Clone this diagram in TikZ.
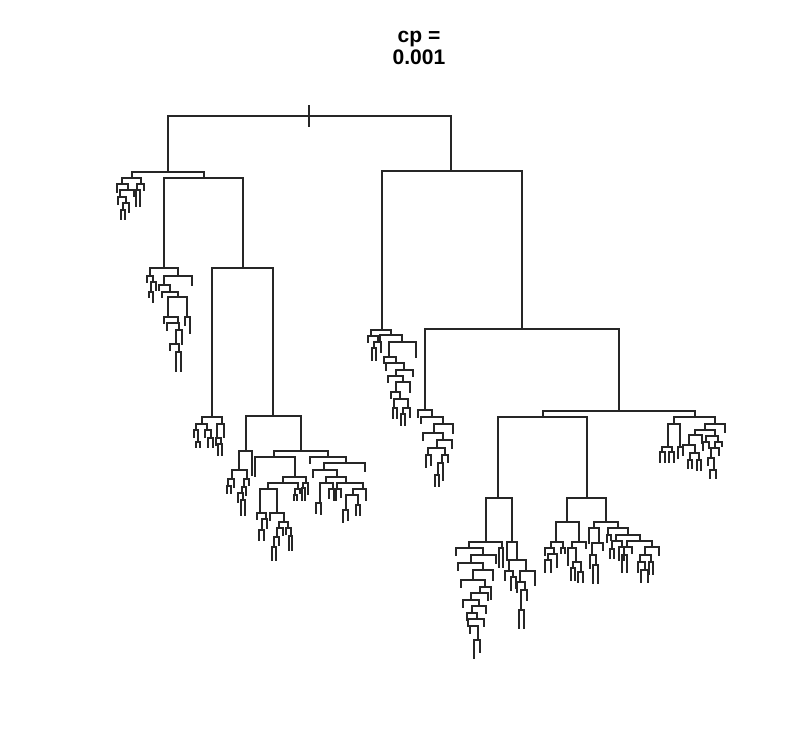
\documentclass[tikz,border=0pt]{standalone}
\usepackage{fontspec}
\setmainfont{Liberation Sans}
\usepackage{tikz}
\tikzset{branch/.style={line width=0.8pt, black!85, line cap=rect}}

\begin{document}
\begin{tikzpicture}[x=0.75pt, y=0.75pt, yscale=-1]
\useasboundingbox (0,0) rectangle (794,750);
\node[font=\bfseries\fontsize{15.8}{17}\selectfont, align=center] (title) at (419,48) {cp =\\0.001};
% root tick
\draw[branch] (309,106) -- (309,126);
% main splits: left x / right x / bar y / left end / right end
\foreach \xl/\xr/\yb/\yl/\yr in {168/451/116/172/171, 132/204/172/178/178, 164/243/178/268/268,
  212/273/268/417/416, 246/301/416/451/451, 382/522/171/330/329, 425/619/329/410/411,
  543/695/411/417/417, 498/587/417/498/498, 486/512/498/542/542, 567/606/498/522/522,
  674/715/417/424/424} {
  \draw[branch] (\xl,\yl) |- (\xr,\yb) -- (\xr,\yr);
}
% left-hand subtrees
\foreach \xl/\xr/\yb/\yl/\yr in {122/141/178/184/184, 117/128/184/192/190, 120/134/190/197/196,
  118/126/197/204/203, 123/129/203/210/212, 121/125/210/219/219, 137/144/184/190/190,
  136/140/190/206/206,
  150/178/268/276/276, 147/153/276/282/282, 151/156/282/292/290, 149/153/292/297/302,
  164/192/276/285/285, 159/170/285/290/292, 162/178/292/297/297, 168/187/297/317/317,
  164/178/317/323/323, 167/179/323/330/330, 176/182/330/344/344, 170/179/344/350/352,
  176/181/352/371/371, 185/190/317/325/333,
  202/222/417/424/424, 196/207/424/430/430, 194/198/430/437/442, 196/200/442/447/447,
  205/211/430/437/438, 208/213/438/447/447, 217/224/424/438/437, 216/221/438/445/444,
  218/222/444/455/455,
  239/252/451/470/475, 232/247/470/479/479, 228/234/479/486/487, 227/231/486/493/493,
  244/249/479/487/485, 242/246/487/493/495, 238/243/493/502/500, 241/245/500/515/515} {
  \draw[branch] (\xl,\yl) |- (\xr,\yb) -- (\xr,\yr);
}
% wide subtree under x=301
\foreach \xl/\xr/\yb/\yl/\yr in {274/328/451/457/457, 255/295/457/476/477, 283/306/477/483/483,
  303/308/483/488/494, 302/305/488/500/500, 268/298/483/489/489, 295/300/489/495/493,
  294/297/495/500/500, 260/277/489/513/513, 257/266/513/519/519, 262/267/519/530/528,
  259/264/530/540/540, 270/284/513/520/522, 279/288/522/528/528, 277/283/528/537/535,
  274/279/537/547/545, 272/276/547/560/560, 286/291/528/534/536, 289/292/536/550/550,
  310/346/457/463/463, 324/365/463/470/471, 313/337/470/477/477, 326/346/477/483/483,
  320/333/483/503/489, 316/321/503/513/514, 329/334/489/498/500, 337/363/483/489/489,
  336/341/489/500/497, 353/366/489/495/500, 346/358/495/510/505, 343/348/510/522/520,
  356/360/505/515/515} {
  \draw[branch] (\xl,\yl) |- (\xr,\yb) -- (\xr,\yr);
}
% right-hand subtrees
\foreach \xl/\xr/\yb/\yl/\yr in {371/391/330/336/335, 368/378/336/342/342, 374/381/342/348/352,
  372/376/348/360/360, 380/402/335/342/342, 389/416/342/357/357, 384/396/357/363/363,
  386/404/363/370/370, 396/413/370/376/376, 388/403/376/382/382, 396/410/382/392/392,
  391/400/392/398/399, 394/408/399/408/408, 393/397/408/418/418, 403/410/408/414/417,
  401/405/414/425/425,
  418/432/410/417/417, 421/443/417/423/424, 434/453/424/433/433, 423/443/433/440/440,
  437/452/440/448/448, 428/445/448/455/455, 426/431/455/467/465, 442/448/455/463/462,
  438/443/463/475/480, 435/439/475/486/486} {
  \draw[branch] (\xl,\yl) |- (\xr,\yb) -- (\xr,\yr);
}
% bottom subtrees
\foreach \xl/\xr/\yb/\yl/\yr in {469/502/542/548/548, 499/503/548/567/567, 456/483/548/555/555,
  471/496/555/563/563, 458/483/563/570/570, 473/493/570/580/580, 461/485/580/587/587,
  480/491/587/593/599, 471/488/593/600/600, 463/479/600/607/606, 472/486/606/613/613,
  467/477/613/620/619, 468/484/619/626/626, 470/478/626/633/640, 474/480/640/658/652,
  507/517/542/560/560, 509/526/560/571/571, 505/513/571/580/577, 511/516/577/590/588,
  520/535/571/582/585, 517/525/582/592/590, 521/527/590/610/600, 519/524/610/628/628,
  556/579/522/542/542, 551/563/542/548/548, 545/554/548/555/554, 548/557/554/560/567,
  545/551/560/572/572, 561/565/548/553/553, 572/586/542/548/548, 568/576/548/565/562,
  573/581/562/568/572, 571/575/568/580/580, 578/583/572/582/582,
  594/618/522/528/528, 589/599/528/543/543, 592/603/543/555/550, 590/596/555/568/565,
  593/598/565/583/583, 608/628/528/535/535, 607/611/535/542/540, 616/640/535/541/541,
  612/622/541/549/547, 610/614/549/558/558, 619/624/547/560/560, 627/652/541/547/547,
  624/632/547/555/553, 622/627/555/572/572, 645/659/547/555/555, 640/651/555/562/562,
  638/645/562/572/570, 641/648/570/582/582, 649/653/562/574/574} {
  \draw[branch] (\xl,\yl) |- (\xr,\yb) -- (\xr,\yr);
}
% far right subtrees
\foreach \xl/\xr/\yb/\yl/\yr in {668/680/424/447/447, 662/672/447/452/452, 660/665/452/462/462,
  669/674/452/462/462, 678/683/447/458/455,
  705/725/424/430/432, 695/715/430/435/436, 689/702/435/445/443, 683/695/445/455/453,
  690/699/453/460/460, 688/692/460/468/468, 697/701/460/470/470, 706/718/436/442/442,
  703/709/442/450/448, 715/722/442/448/446, 711/719/448/458/455, 708/714/458/465/470,
  710/716/470/478/478} {
  \draw[branch] (\xl,\yl) |- (\xr,\yb) -- (\xr,\yr);
}
\end{tikzpicture}
\end{document}
